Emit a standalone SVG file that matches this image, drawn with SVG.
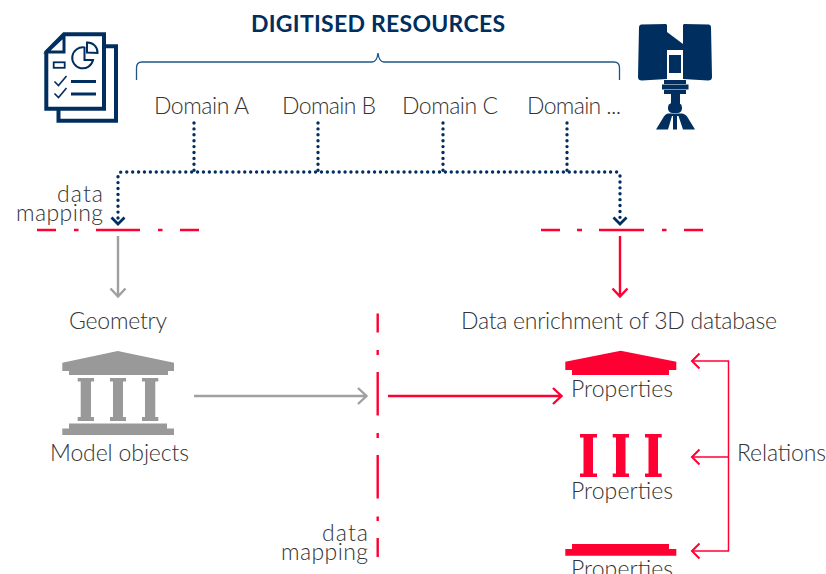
<svg xmlns="http://www.w3.org/2000/svg" width="826" height="574" viewBox="0 0 826 574">
<style>
text{font-family:"Lato","Liberation Sans",sans-serif;font-weight:300;font-size:23px;fill:#333}
.t{font-weight:700;fill:#002f5f;font-size:23px}
.dot{fill:none;stroke:#002f5f;stroke-width:3.4;stroke-linecap:round;stroke-dasharray:0 5.9}
.nav{fill:none;stroke:#002f5f;stroke-width:2.8}
.gr{fill:none;stroke:#a0a0a0;stroke-width:2.4}
.rd{fill:none;stroke:#ff0033;stroke-width:2.4}
.rt{fill:none;stroke:#ff0033;stroke-width:1.5}
.rh{fill:none;stroke:#ff0033;stroke-width:2}
.gf{fill:#999}.rf{fill:#ff0033}.nf{fill:#002f5f}
</style>
<g id="title"><text class="t" x="251" y="31.500" textLength="254">DIGITISED RESOURCES</text></g>
<g id="documents-icon">
<path d="M64,34.300H104V108.700H46.300V52Z" fill="none" stroke="#002f5f" stroke-width="4"/>
<path d="M106,46.300H116V120.700H58.500V110" fill="none" stroke="#002f5f" stroke-width="4"/>
<path d="M64,36V52H47Z" fill="#fff" stroke="#002f5f" stroke-width="3"/>
<path d="M84.500,47.500A10.500,10.500 0 1 0 93,60H84.500Z" fill="none" stroke="#002f5f" stroke-width="2"/>
<path d="M87,42.500A10,10 0 0 1 97.500,53L87,52.500Z" fill="none" stroke="#002f5f" stroke-width="2"/>
<rect x="53.700" y="62.300" width="11" height="5.500" fill="none" stroke="#002f5f" stroke-width="1.800"/>
<path d="M54.500,81.500L58.500,85.500L66.500,76M54.500,93.500L58.500,97.500L66.500,88" fill="none" stroke="#002f5f" stroke-width="1.600"/>
<path d="M71,81.500H96M71,94H96" fill="none" stroke="#002f5f" stroke-width="3"/>
</g>
<g id="scanner-icon" class="nf">
<path d="M641,24.500L666,24L667,25V79L642,80.500Q638,80.500 638,77L639,27Q639,25 641,24.500Z"/>
<path d="M709,24.500L684,24L683,25V79L708,80.500Q712,80.500 712,77L711,27Q711,25 709,24.500Z"/>
<path d="M667,32L683,44V50H667Z"/>
<rect x="669" y="55" width="12" height="18"/>
<rect x="664" y="80" width="22" height="4"/>
<rect x="662" y="84.500" width="26.500" height="5"/>
<rect x="664" y="90" width="22" height="4"/>
<rect x="671" y="94" width="9" height="10"/>
<rect x="668" y="103" width="14" height="10" rx="4.500"/>
<path d="M668,113.500H682Q686,114 688,118L695,129.500H683L678.500,116H677L677,129.500H673L673,116H672L668,129.500H656L663,118Q665,114 668,113.500Z"/>
</g>
<g id="connectors">
<path d="M136.500,80V68Q136.500,62 142,62H372Q377,62 378,53Q379,62 384,62H614Q619.500,62 619.500,68V80" fill="none" stroke="#1f5583" stroke-width="1.300"/>
<path class="dot" d="M194,123V171M318,123V171M443,123V171M567,123V171"/>
<path class="dot" d="M118,218V176Q118,172 122,172H616Q620,172 620,176V218"/>
<path class="nav" d="M111.500,217.500L118,224L124.500,217.500M613.500,217.500L620,224L626.500,217.500"/>
<path class="rd" d="M37,230H56M74,230H78.500M96,230H140M158,230H162.500M180,230H199"/>
<path class="rd" d="M541,230H560M577,230H582M599,230H644M662,230H666.500M684,230H703"/>
<path class="rd" d="M377.700,313.500V332.500M377.700,350V355M377.700,372V415.500M377.700,433V438M377.700,455V498.500M377.700,516.500V521M377.700,538V557"/>
<path class="gr" d="M118,236V296M110.500,288.500L118,296.500L125.500,288.500"/>
<path class="rd" d="M620,236V296M612.500,288.500L620,296.500L627.500,288.500"/>
<path class="gr" d="M194,396H366M358,388L366.500,396L358,404"/>
<path class="rd" d="M388,396H561M553,388L561.500,396L553,404"/>
<path class="rt" d="M692,361H728.500V551H692M692,457H728.500"/>
<path class="rh" d="M699.500,353.500L692,361L699.500,368.500M699.500,449.500L692,457L699.500,464.500M699.500,543.500L692,551L699.500,558.500"/>
</g>
<g id="domain-a"><text x="154" y="114" textLength="95">Domain A</text></g>
<g id="domain-b"><text x="282" y="114" textLength="94">Domain B</text></g>
<g id="domain-c"><text x="402" y="114" textLength="96">Domain C</text></g>
<g id="domain-more"><text x="527" y="114" textLength="94">Domain ...</text></g>
<g id="data-mapping-top"><text><tspan x="57" y="202" textLength="46">data</tspan><tspan x="16" y="221" textLength="87">mapping</tspan></text></g>
<g id="geometry"><text x="69" y="329" textLength="98">Geometry</text></g>
<g id="enrichment"><text x="461" y="329" textLength="316">Data enrichment of 3D database</text></g>
<g id="model-objects">
<path class="gf" d="M62.300,362.700L117.700,351L174,362.700V371H168V375H69V371H62.300Z"/>
<path class="gf" d="M77.700,378H94V381.500H91V417H94V421H77.700V417H80.700V381.500H77.700Z"/>
<path class="gf" d="M110,378H126V381.500H123V417H126V421H110V417H113V381.500H110Z"/>
<path class="gf" d="M142,378H158.300V381.500H155.300V417H158.300V421H142V417H145V381.500H142Z"/>
<path class="gf" d="M69,423.500H167V428.500H174V435H62.300V428.500H69Z"/>
<text x="50" y="461" textLength="139">Model objects</text>
</g>
<g id="properties-roof">
<path class="rf" d="M565.300,361.700L620.700,350.700L676.300,361.700V370H669V375H572V370H565.300Z"/>
<text x="571" y="397" textLength="102">Properties</text>
</g>
<g id="properties-columns">
<path class="rf" d="M580,434H597V437.500H593V473.500H597V477H580V473.500H583.500V437.500H580Z"/>
<path class="rf" d="M612.700,434H629V437.500H625.500V473.500H629V477H612.700V473.500H616V437.500H612.700Z"/>
<path class="rf" d="M645,434H661.700V437.500H658V473.500H661.700V477H645V473.500H648.500V437.500H645Z"/>
<text x="571" y="499" textLength="102">Properties</text>
</g>
<g id="properties-base">
<path class="rf" d="M572,544H669V549H676.300V555.700H565.300V549H572Z"/>
<text x="571" y="577" textLength="102">Properties</text>
</g>
<g id="relations"><text x="737" y="461" textLength="89">Relations</text></g>
<g id="data-mapping-bottom"><text><tspan x="322" y="541" textLength="46">data</tspan><tspan x="281" y="560" textLength="87">mapping</tspan></text></g>
</svg>
